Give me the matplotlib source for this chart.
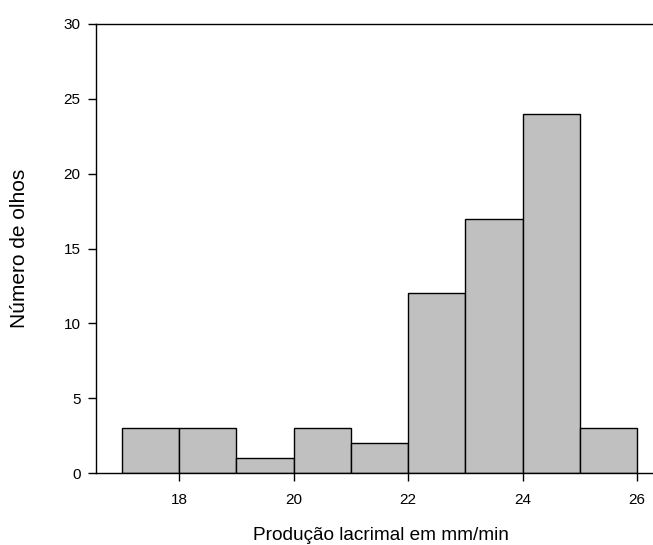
import matplotlib
matplotlib.use('Agg')
import matplotlib.pyplot as plt

# ── Data ──────────────────────────────────────────────────────────────────────
bin_edges = [17, 18, 19, 20, 21, 22, 23, 24, 25, 26]
counts    = [3, 3, 1, 3, 2, 12, 17, 24, 3]
x_ticks   = [18, 20, 22, 24, 26]
y_ticks   = [0, 5, 10, 15, 20, 25, 30]

plt.rcParams['font.family'] = ['Liberation Sans', 'DejaVu Sans']

fig = plt.figure(figsize=(6.53, 5.45), dpi=100)
ax = fig.add_axes([0.147, 0.132, 0.853, 0.824])

widths = [b - a for a, b in zip(bin_edges[:-1], bin_edges[1:])]
ax.bar(bin_edges[:-1], counts, width=widths, align='edge',
       color='#c0c0c0', edgecolor='black', linewidth=1.0)

ax.set_xlim(16.545, 26.28)
ax.set_ylim(0, 30)
ax.set_xticks(x_ticks)
ax.set_yticks(y_ticks)
ax.tick_params(direction='out', length=6, width=1, labelsize=11)
ax.tick_params(axis='x', pad=8)
ax.tick_params(axis='y', pad=5)

ax.spines['right'].set_visible(False)
for s in ['left', 'bottom', 'top']:
    ax.spines[s].set_linewidth(1)

ax.set_xlabel('Produção lacrimal em mm/min', fontsize=13.7, va='center')
ax.xaxis.set_label_coords(0.512, -0.138)
ax.set_ylabel('Número de olhos', fontsize=15, va='center')
ax.yaxis.set_label_coords(-0.138, 0.5)

fig.savefig('out.png', dpi=100)
